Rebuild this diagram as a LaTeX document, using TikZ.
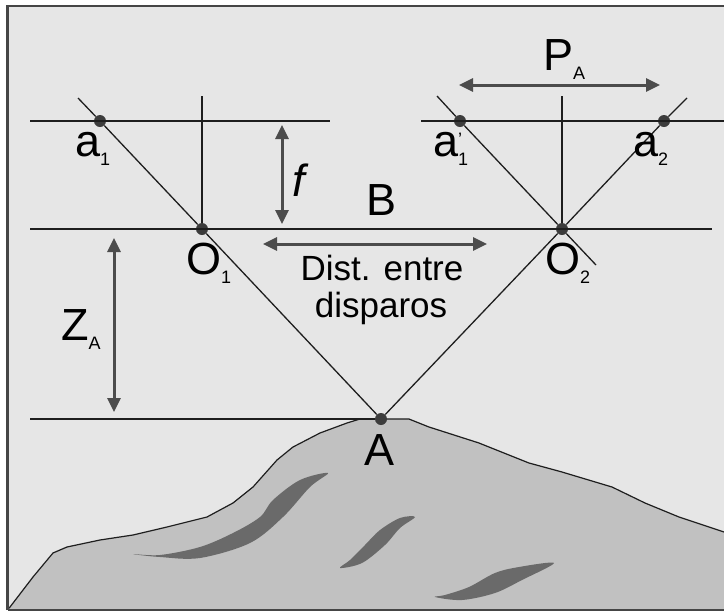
\documentclass[tikz,border=0pt]{standalone}
\usepackage{fontspec}
\setmainfont{Liberation Sans}
\usetikzlibrary{arrows.meta}

\definecolor{paper}{HTML}{E6E6E6}
\definecolor{ground}{HTML}{C1C1C1}
\definecolor{vein}{HTML}{6A6A6A}
\definecolor{ink}{HTML}{1E1E1E}
\definecolor{framegrey}{HTML}{454545}
\definecolor{arrowgrey}{HTML}{4C4C4C}
\definecolor{dotgrey}{HTML}{3C3C3C}

% letter with a small lowered subscript
\newcommand{\subsize}{\fontsize{18}{18}\selectfont}
\newcommand{\withsub}[2]{#1\raisebox{-9pt}{\subsize #2}}

\begin{document}
\begin{tikzpicture}[x=1pt,y=-1pt,
  planeline/.style={draw=ink, line width=2pt},
  ray/.style={draw=ink, line width=1.3pt},
  dimarrow/.style={draw=arrowgrey, line width=3pt,
    {Triangle[length=14pt,width=13pt]}-{Triangle[length=14pt,width=13pt]}},
  dot/.style={circle, fill=dotgrey, inner sep=0pt, minimum size=12pt},
  biglabel/.style={font=\fontsize{45}{45}\selectfont, inner sep=0pt},
  midlabel/.style={font=\fontsize{35}{37}\selectfont, inner sep=0pt, align=center}]

\useasboundingbox (0,0) rectangle (724,611);
\fill[white] (0,0) rectangle (724,611);
\fill[paper] (7.5,6) rectangle (724,609.5);

% terrain
\fill[ground] (8,609) -- (10,607) -- (33,577) -- (53,553) -- (67,547) -- (100,540)
  -- (133,535) -- (167,527) -- (207,517) -- (233,503) -- (253,487) -- (277,460)
  -- (293,447) -- (320,433) -- (347,423) -- (360,419) -- (409,419) -- (429,427)
  -- (479,443) -- (529,463) -- (562,472) -- (612,487) -- (645,503) -- (679,517)
  -- (724,532) -- (724,611) -- (8,611) -- cycle;
\draw[ink, line width=1.2pt, line join=round] (8,609) -- (10,607) -- (33,577) -- (53,553) -- (67,547) -- (100,540)
  -- (133,535) -- (167,527) -- (207,517) -- (233,503) -- (253,487) -- (277,460)
  -- (293,447) -- (320,433) -- (347,423) -- (360,419) -- (409,419) -- (429,427)
  -- (479,443) -- (529,463) -- (562,472) -- (612,487) -- (645,503) -- (679,517)
  -- (724,532);

% rock veins
\fill[vein] plot[smooth cycle, tension=0.55] coordinates {(133,554) (160,557) (200,558)
  (250,543) (283,517) (310,487) (328,473) (300,480) (273,500) (260,517) (233,533)
  (200,547) (160,555)};
\fill[vein] plot[smooth cycle, tension=0.55] coordinates {(340,568) (362,563) (385,545)
  (400,528) (415,517) (400,518) (380,530) (365,545) (350,560)};
\fill[vein] plot[smooth cycle, tension=0.55] coordinates {(435,597) (462,600) (495,593)
  (522,580) (554,563) (519,567) (495,573) (469,587) (445,595)};

% frame
\draw[framegrey, line width=2.5pt] (7.5,610) -- (7.5,6) -- (724,6);
\draw[framegrey, line width=1.5pt] (7.5,610) -- (724,610);

% image planes, projection centres and datum
\coordinate (pl1w) at (30,121);  \coordinate (pl1e) at (330,121);
\coordinate (pl2w) at (421,121); \coordinate (pl2e) at (724,121);
\coordinate (flw) at (30,229);   \coordinate (fle) at (712,229);
\coordinate (datw) at (30,419);

\node[dot] (a1)  at (100,121) {};
\node[dot] (a1p) at (460,121) {};
\node[dot] (a2)  at (664,121) {};
\node[dot] (O1)  at (202,229) {};
\node[dot] (O2)  at (562,229) {};
\node[dot] (A)   at (381,419) {};

\coordinate (ax1) at (202,96);
\coordinate (ax2) at (562,96);
\coordinate (r1) at (78,98);
\coordinate (r2) at (687,98);
\coordinate (r3s) at (437,96);
\coordinate (r3e) at (596,265);

\draw[planeline] (pl1w) -- (pl1e);
\draw[planeline] (pl2w) -- (pl2e);
\draw[planeline] (flw) -- (fle);
\draw[planeline] (datw) -- (A);
\draw[planeline] (ax1) -- (O1);
\draw[planeline] (ax2) -- (O2);

\draw[ray] (r1) -- (a1) -- (O1) -- (A);
\draw[ray] (A) -- (O2) -- (a2) -- (r2);
\draw[ray] (r3s) -- (a1p) -- (O2) -- (r3e);

% dimension arrows
\coordinate (ft) at (282,125);  \coordinate (fb) at (282,224);
\coordinate (zt) at (114,238);  \coordinate (zb) at (114,412);
\coordinate (bw) at (263,244);  \coordinate (be) at (487,244);
\coordinate (pw) at (459,85);   \coordinate (pe) at (660,85);
\draw[dimarrow] (ft) -- (fb);
\draw[dimarrow] (zt) -- (zb);
\draw[dimarrow] (bw) -- (be);
\draw[dimarrow] (pw) -- (pe);

% labels
\node[biglabel, anchor=base west] (la1) at (75,156) {\withsub{a}{1}};
\node[biglabel, anchor=base west] (la1p) at (433,156)
  {a\raisebox{-9pt}{\subsize\begin{tabular}[b]{@{}l@{}}'\\[2pt]1\end{tabular}}};
\node[biglabel, anchor=base west] (la2) at (633,156) {\withsub{a}{2}};
\node[biglabel, anchor=base west] (lO1) at (186,274) {\withsub{O}{1}};
\node[biglabel, anchor=base west] (lO2) at (545,274) {\withsub{O}{2}};
\node[biglabel, anchor=base] (lf) at (299,196) {\itshape f};
\node[biglabel, anchor=base] (lB) at (382,215) {B};
\node[biglabel, anchor=base west] (lZ) at (61,340) {\withsub{Z}{A}};
\node[biglabel, anchor=base west] (lP) at (543,70) {\withsub{P}{A}};
\node[biglabel, anchor=base] (lA) at (380,465) {A};
\node[midlabel, anchor=base] (ldist) at (382,280) {Dist. entre};
\node[midlabel, anchor=base] (ldisp) at (381,317) {disparos};
\end{tikzpicture}
\end{document}
